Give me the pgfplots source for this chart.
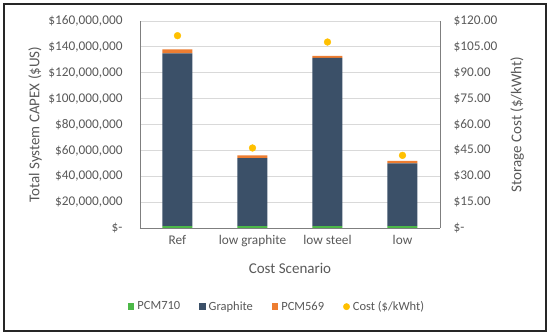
\documentclass[border=0pt]{standalone}
\usepackage{pgfplots}
\pgfplotsset{compat=1.18}
\usepackage{fontspec}
\setmainfont{Carlito}
\definecolor{pcmgreen}{HTML}{4CB848}
\definecolor{graphite}{HTML}{3B5068}
\definecolor{pcmorange}{HTML}{ED7D31}
\definecolor{gold}{HTML}{FFC000}
\definecolor{txt}{HTML}{595959}
\definecolor{gridc}{HTML}{D9D9D9}
\definecolor{axc}{HTML}{7F7F7F}
\begin{document}
\begin{tikzpicture}[x=1pt,y=1pt]
\path (0,0) rectangle (550,335);
\draw[line width=1.3pt, black!85] (4,4) rectangle (546,331);
\begin{axis}[
  at={(140pt,107pt)}, anchor=south west,
  width=300pt, height=207pt, scale only axis,
  ybar stacked, bar width=30pt,
  xmin=-0.5, xmax=3.5, ymin=0, ymax=160,
  xtick={0,1,2,3},
  xticklabels={Ref, low graphite, low steel, low},
  ytick={0,20,40,60,80,100,120,140,160},
  yticklabels={\$-, {\$20,000,000}, {\$40,000,000}, {\$60,000,000}, {\$80,000,000}, {\$100,000,000}, {\$120,000,000}, {\$140,000,000}, {\$160,000,000}},
  major tick length=0pt,
  axis x line*=bottom, axis y line*=left,
  axis line style={axc, line width=0.8pt},
  ymajorgrids, grid style={gridc, line width=0.8pt},
  tick label style={txt, font=\fontsize{13.3}{15}\selectfont},
  yticklabel style={xshift=-14pt},
  xticklabel style={yshift=-4pt},
  label style={txt, font=\fontsize{15}{17}\selectfont},
  xlabel={Cost Scenario},
  xlabel style={at={(axis description cs:0.5,-0.193)}, anchor=center},
  ylabel={Total System CAPEX (\$US)},
  ylabel style={at={(axis description cs:-0.35,0.5)}, anchor=center},
  legend columns=4,
  legend style={draw=none, at={(axis description cs:0.457,-0.38)}, anchor=center,
    font=\fontsize{12.5}{14}\selectfont, text=txt,
    /tikz/every odd column/.append style={column sep=1pt},
    /tikz/every even column/.append style={column sep=17pt}},
  legend image code/.code={\fill[#1] (0pt,-3.2pt) rectangle (6.4pt,3.2pt);},
]
\addplot[fill=pcmgreen, draw=none] coordinates {(0,1.5) (1,1.5) (2,1.5) (3,1.5)};
\addlegendentry{PCM710}
\addplot[fill=graphite, draw=none] coordinates {(0,133.5) (1,52.5) (2,130.0) (3,48.5)};
\addlegendentry{Graphite}
\addplot[fill=pcmorange, draw=none] coordinates {(0,3.0) (1,2.2) (2,1.6) (3,1.8)};
\addlegendentry{PCM569}
\addlegendimage{legend image code/.code={\fill[gold] (3.2pt,0pt) circle (3.2pt);}}
\addlegendentry{Cost (\$/kWht)}
\end{axis}
\begin{axis}[
  at={(140pt,107pt)}, anchor=south west,
  width=300pt, height=207pt, scale only axis,
  xmin=-0.5, xmax=3.5, ymin=0, ymax=120,
  hide x axis,
  axis y line*=right,
  axis line style={axc, line width=0.8pt},
  major tick length=0pt,
  ytick={0,15,30,45,60,75,90,105,120},
  yticklabels={\$-, \$15.00, \$30.00, \$45.00, \$60.00, \$75.00, \$90.00, \$105.00, \$120.00},
  tick label style={txt, font=\fontsize{13.3}{15}\selectfont},
  yticklabel style={xshift=10pt, anchor=west},
  label style={txt, font=\fontsize{15}{17}\selectfont},
  ylabel={Storage Cost (\$/kWht)},
  ylabel style={at={(axis description cs:1.257,0.5)}, anchor=center, rotate=0},
]
\addplot[only marks, mark=*, mark size=3.4pt, color=gold] coordinates {(0,111.5) (1,46.4) (2,107.8) (3,42.1)};
\end{axis}
\end{tikzpicture}
\end{document}
